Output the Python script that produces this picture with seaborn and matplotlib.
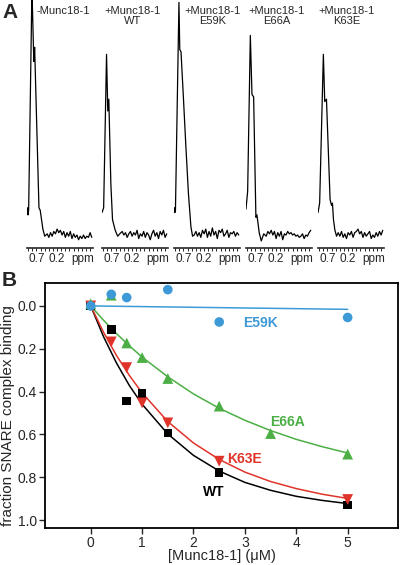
import matplotlib
matplotlib.use('Agg')
import matplotlib.pyplot as plt
import seaborn as sns
import numpy as np

sns.set_style('ticks')
plt.rcParams['font.family'] = ['Liberation Sans', 'DejaVu Sans']

# ---- panel A: 1D NMR spectra (ppm, relative intensity) ----
spec_titles = ['-Munc18-1', '+Munc18-1\nWT', '+Munc18-1\nE59K', '+Munc18-1\nE66A', '+Munc18-1\nK63E']

peak_ppm_1 = [0.93, 0.915, 0.905, 0.89, 0.81, 0.765, 0.745, 0.64, 0.61, 0.545, 0.50]
peak_int_1 = [0.10, 0.12, 0.09, 0.11, 1.05, 0.74, 0.80, 0.12, 0.11, 0.03, 0.0]
peak_ppm_2 = [0.93, 0.89, 0.82, 0.79, 0.765, 0.715, 0.675, 0.61, 0.55, 0.50]
peak_int_2 = [0.10, 0.12, 0.77, 0.53, 0.58, 0.22, 0.07, 0.025, 0.0, 0.01]
peak_ppm_3 = [0.93, 0.92, 0.91, 0.895, 0.81, 0.79, 0.76, 0.70, 0.645, 0.58, 0.52, 0.48]
peak_int_3 = [0.10, 0.12, 0.10, 0.11, 0.99, 0.79, 0.78, 0.58, 0.39, 0.18, 0.04, 0.0]
peak_ppm_4 = [0.93, 0.89, 0.825, 0.785, 0.745, 0.69, 0.665, 0.65, 0.61, 0.56, 0.50]
peak_int_4 = [0.115, 0.19, 0.85, 0.60, 0.59, 0.08, 0.09, 0.07, 0.015, -0.02, 0.01]
peak_ppm_5 = [0.93, 0.89, 0.80, 0.767, 0.725, 0.637, 0.60, 0.58, 0.555, 0.52, 0.48]
peak_int_5 = [0.10, 0.14, 0.77, 0.57, 0.58, 0.155, 0.13, 0.14, 0.07, 0.025, 0.0]

base_ppm = [0.44, 0.40, 0.36, 0.32, 0.28, 0.24, 0.20, 0.16, 0.12, 0.08, 0.04, 0.00, -0.04, -0.08,
            -0.12, -0.16, -0.20, -0.24, -0.28, -0.32, -0.36, -0.40, -0.44, -0.48, -0.52, -0.56, -0.60, -0.64]
base_int_1 = [0.01, -0.005, 0.015, 0.0, 0.02, 0.01, 0.03, 0.015, 0.025, 0.005, 0.02, -0.005, 0.015, 0.0,
              0.02, -0.01, 0.01, -0.005, 0.005, -0.015, 0.0, -0.01, 0.005, -0.01, 0.0, -0.005, 0.015, -0.005]
base_int_2 = [0.02, 0.005, 0.015, -0.005, 0.01, 0.02, 0.0, 0.015, 0.005, 0.025, -0.01, 0.01, 0.0, 0.02,
              -0.005, 0.015, 0.005, -0.015, 0.01, 0.025, 0.0, 0.015, -0.01, 0.02, 0.005, 0.025, -0.005, 0.01]
base_int_3 = [0.005, 0.02, 0.0, 0.015, -0.005, 0.025, 0.01, 0.03, -0.005, 0.02, 0.0, 0.035, 0.005, 0.02,
              -0.01, 0.025, 0.015, 0.03, 0.0, 0.01, 0.025, -0.005, 0.015, 0.01, 0.02, 0.0, 0.015, 0.005]
base_int_4 = [0.0, 0.02, 0.01, 0.025, 0.005, 0.02, -0.01, 0.015, 0.0, 0.02, -0.015, 0.01, 0.005, 0.02,
              0.01, 0.015, 0.005, 0.01, 0.0, 0.005, -0.005, 0.0, 0.01, -0.01, 0.005, 0.0, 0.015, 0.025]
base_int_5 = [0.015, 0.0, 0.02, -0.005, 0.01, -0.01, 0.015, 0.005, 0.02, -0.005, 0.015, 0.02, 0.03, 0.01,
              0.02, -0.005, 0.015, 0.0, 0.01, 0.02, -0.01, 0.005, -0.005, 0.015, 0.0, 0.02, 0.005, 0.025]

spectra = [
    (peak_ppm_1 + base_ppm, peak_int_1 + base_int_1),
    (peak_ppm_2 + base_ppm, peak_int_2 + base_int_2),
    (peak_ppm_3 + base_ppm, peak_int_3 + base_int_3),
    (peak_ppm_4 + base_ppm, peak_int_4 + base_int_4),
    (peak_ppm_5 + base_ppm, peak_int_5 + base_int_5),
]

# ---- panel B: binding titration ----
conc_wt = [0, 0.4, 0.7, 1.0, 1.5, 2.5, 5]
frac_wt = [0, 0.110, 0.443, 0.409, 0.593, 0.778, 0.930]
conc_k63e = [0, 0.4, 0.7, 1.0, 1.5, 2.5, 5]
frac_k63e = [0, 0.168, 0.288, 0.453, 0.546, 0.725, 0.904]
conc_e66a = [0, 0.4, 0.7, 1.0, 1.5, 2.5, 3.5, 5]
frac_e66a = [-0.01, -0.05, 0.173, 0.241, 0.339, 0.468, 0.596, 0.692]
conc_e59k = [0, 0.4, 0.7, 1.5, 2.5, 5]
frac_e59k = [0, -0.054, -0.039, -0.076, 0.075, 0.054]

fit_x = [0, 0.25, 0.5, 0.75, 1, 1.5, 2, 2.5, 3, 3.5, 4, 4.5, 5]
fit_wt = [0, 0.144, 0.266, 0.371, 0.459, 0.598, 0.698, 0.771, 0.824, 0.861, 0.889, 0.908, 0.923]
fit_k63e = [0, 0.123, 0.231, 0.324, 0.406, 0.540, 0.640, 0.717, 0.776, 0.820, 0.853, 0.879, 0.899]
fit_e66a = [0, 0.067, 0.129, 0.186, 0.239, 0.331, 0.411, 0.478, 0.534, 0.582, 0.623, 0.657, 0.687]
fit_e59k_x = [0, 5]
fit_e59k = [0, 0.016]

blue = '#3d9ad6'
green = '#4caf45'
red = '#e0342b'

W, H = 400, 565
fig = plt.figure(figsize=(W / 100, H / 100), dpi=100)

# spectra axes
spec_left = [27, 102, 174, 246, 318]
spec_label_x = [63, 133, 213, 277, 347]
for i, (ppm, inten) in enumerate(spectra):
    ax = fig.add_axes([spec_left[i] / W, 1 - 248 / H, 66 / W, 248 / H])
    sns.lineplot(x=ppm, y=inten, sort=False, estimator=None, color='black', lw=0.9, ax=ax)
    ax.set_xlim(0.93, -0.67)
    ax.set_ylim(-0.05, 1.0)
    ax.set_yticks([])
    for s in ['left', 'right', 'top']:
        ax.spines[s].set_visible(False)
    ax.spines['bottom'].set_linewidth(1.2)
    ax.set_xticks([0.7, 0.2])
    ax.set_xticklabels(['0.7', '0.2'], fontsize=8.5)
    ax.set_xticks(np.arange(0.9, -0.66, -0.1), minor=True)
    ax.tick_params(axis='x', which='both', direction='out', length=2.5, width=0.7, pad=1)
    ax.annotate('ppm', xy=(-0.43, 0), xycoords=('data', 'axes fraction'),
                xytext=(0, -3.6), textcoords='offset points',
                fontsize=8.5, ha='center', va='top')
    ax.set_facecolor('none')
    fig.text(spec_label_x[i] / W, 1 - 6 / H, spec_titles[i], ha='center', va='top',
             fontsize=8, linespacing=1.0)

fig.text(2 / W, 1 - 12 / H, 'A', fontsize=15, fontweight='bold', va='center', ha='left')
fig.text(2 / W, 1 - 280 / H, 'B', fontsize=15, fontweight='bold', va='center', ha='left')

# titration axes
axb = fig.add_axes([45 / W, 1 - 528 / H, 353 / W, 245 / H])
sns.lineplot(x=fit_x, y=fit_wt, color='black', lw=1.1, ax=axb)
sns.lineplot(x=fit_x, y=fit_k63e, color=red, lw=1.1, ax=axb)
sns.lineplot(x=fit_x, y=fit_e66a, color=green, lw=1.1, ax=axb)
sns.lineplot(x=fit_e59k_x, y=fit_e59k, color=blue, lw=1.1, ax=axb)
sns.scatterplot(x=conc_wt, y=frac_wt, marker='s', s=38, color='black', edgecolor='none', ax=axb, zorder=3)
sns.scatterplot(x=conc_k63e, y=frac_k63e, marker='v', s=60, color=red, edgecolor='none', ax=axb, zorder=3)
sns.scatterplot(x=conc_e66a, y=frac_e66a, marker='^', s=60, color=green, edgecolor='none', ax=axb, zorder=3)
sns.scatterplot(x=conc_e59k, y=frac_e59k, marker='o', s=48, color=blue, edgecolor='none', ax=axb, zorder=4)

axb.text(2.96, 0.082, 'E59K', color=blue, fontsize=10, fontweight='bold', va='center')
axb.text(3.49, 0.54, 'E66A', color=green, fontsize=10, fontweight='bold', va='center')
axb.text(2.66, 0.715, 'K63E', color=red, fontsize=10, fontweight='bold', va='center')
axb.text(2.19, 0.87, 'WT', color='black', fontsize=10, fontweight='bold', va='center')

axb.set_xlim(-0.89, 5.98)
axb.set_ylim(1.037, -0.107)
axb.set_xticks([0, 1, 2, 3, 4, 5])
axb.set_yticks([0.0, 0.2, 0.4, 0.6, 0.8, 1.0])
axb.set_yticklabels(['0.0', '0.2', '0.4', '0.6', '0.8', '1.0'])
axb.tick_params(labelsize=10, length=4, width=1, direction='out', pad=2)
for s in axb.spines.values():
    s.set_linewidth(1.3)
    s.set_color('black')
axb.set_xlabel('[Munc18-1] (\u03bcM)', fontsize=10.5, va='center')
axb.set_ylabel('fraction SNARE complex binding', fontsize=11, va='center')
axb.xaxis.set_label_coords(0.5, -28 / 245)
axb.yaxis.set_label_coords(-37 / 353, 0.46)

fig.savefig('out.png', dpi=100)
